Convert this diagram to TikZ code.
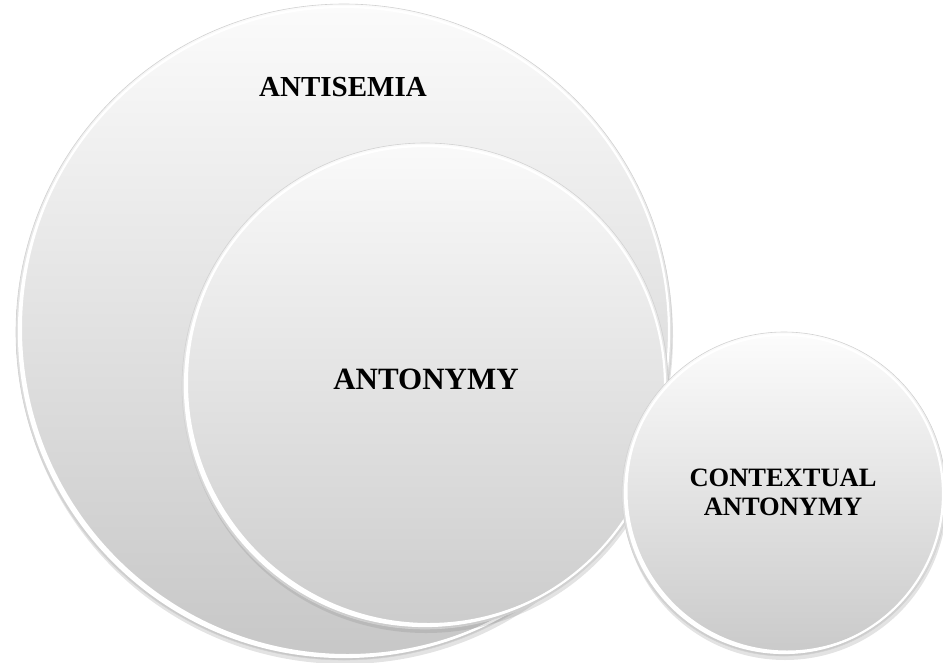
\documentclass[tikz,border=0pt]{standalone}
\usepackage{fontspec}
\setmainfont{Liberation Serif}
\usetikzlibrary{shadows}
\tikzset{
  disc/.style={circle, inner sep=0pt, draw=gray!35, line width=0.6pt,
    top color=gray!3, bottom color=gray!44,
    drop shadow={opacity=0.22, shadow xshift=1pt, shadow yshift=-4pt}},
  rim/.style={draw=white, line width=2.2pt},
  crescent/.style={fill=white, even odd rule},
  lbl/.style={font=\bfseries, text=black, align=center, inner sep=0pt}
}
\begin{document}
\begin{tikzpicture}[x=1pt,y=-1pt]
\useasboundingbox (0,0) rectangle (943,662);
% big circle
\node[disc, minimum size=656pt] (big) at (344,332) {};
\draw[rim] (big.center) circle (325);
\begin{scope}
  \clip (big.center) circle (325.5);
  \fill[crescent] (big.center) circle (325.5) ([shift={(3.5,-3.5)}]big.center) circle (325.5);
\end{scope}
% middle circle
\node[disc, minimum size=486pt, top color=gray!4, bottom color=gray!40] (mid) at (425,386) {};
\draw[rim] (mid.center) circle (240);
\begin{scope}
  \clip (mid.center) circle (240.5);
  \fill[crescent] (mid.center) circle (240.5) ([shift={(3.5,-3.5)}]mid.center) circle (240.5);
\end{scope}
% small circle
\node[disc, minimum size=324pt, top color=gray!2, bottom color=gray!42] (small) at (784,494) {};
\draw[rim] (small.center) circle (159);
\begin{scope}
  \clip (small.center) circle (159.5);
  \fill[crescent] (small.center) circle (159.5) ([shift={(3,-3)}]small.center) circle (159.5);
\end{scope}
% labels
\node[lbl, font=\fontsize{29}{32}\selectfont\bfseries] (t1) at (343,87) {ANTISEMIA};
\node[lbl, font=\fontsize{31}{34}\selectfont\bfseries] (t2) at (426,379) {ANTONYMY};
\node[lbl, font=\fontsize{26.5}{29}\selectfont\bfseries] (t3) at (783,492) {CONTEXTUAL\\ANTONYMY};
\end{tikzpicture}
\end{document}
